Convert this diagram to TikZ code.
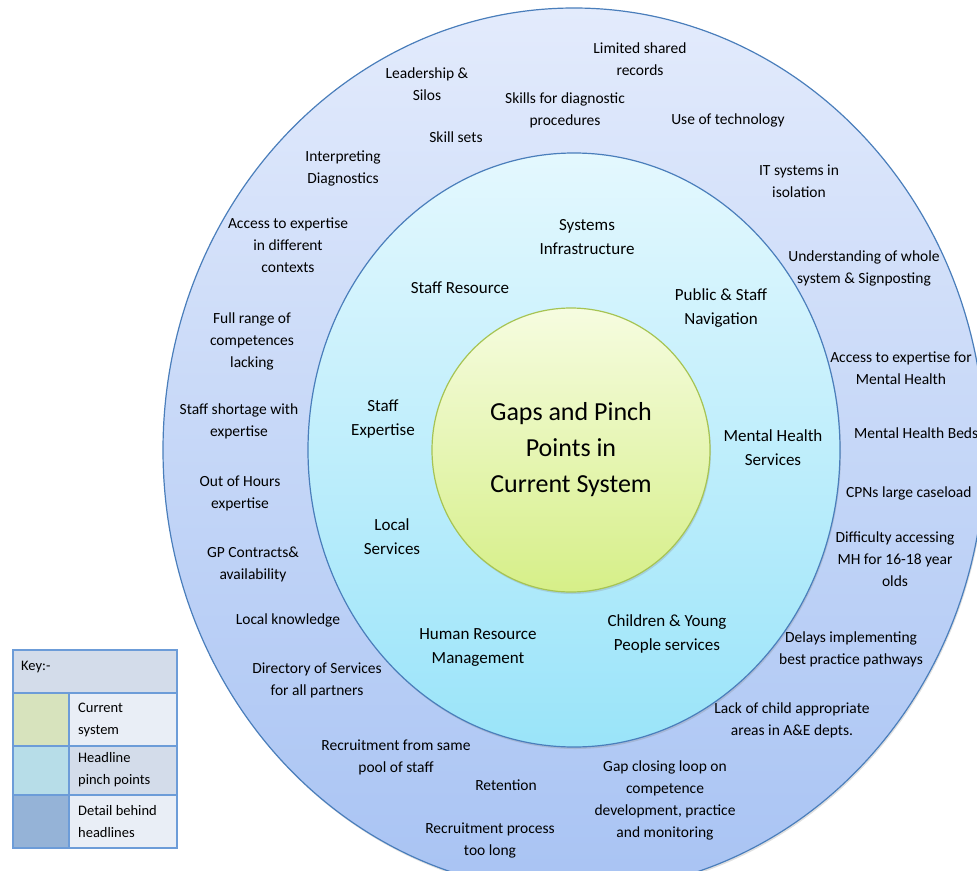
\documentclass[tikz,border=0pt]{standalone}
\usepackage{fontspec}
\setmainfont{Carlito}
\usetikzlibrary{shadows,positioning}

\definecolor{ringborder}{HTML}{4A7EBB}
\definecolor{coreborder}{HTML}{A6C453}
\definecolor{outertop}{HTML}{E3EBFC}
\definecolor{outerbot}{HTML}{A8C3F3}
\definecolor{midtop}{HTML}{E4F8FE}
\definecolor{midbot}{HTML}{9AE4F9}
\definecolor{coretop}{HTML}{F6FCE0}
\definecolor{corebot}{HTML}{D6EF88}
\definecolor{keyborder}{HTML}{6C9CD8}
\definecolor{keyhead}{HTML}{D3DCEA}
\definecolor{keylight}{HTML}{E9EEF6}
\definecolor{keygreen}{HTML}{D7E3BD}
\definecolor{keycyan}{HTML}{B7DDE8}
\definecolor{keyblue}{HTML}{95B3D7}

\begin{document}
\begin{tikzpicture}[
  x=1pt, y=-1pt,
  every node/.style = {align=center, inner sep=1pt},
  detail/.style = {font=\fontsize{15.5}{22}\selectfont},
  headline/.style = {font=\fontsize{17}{24}\selectfont},
  core/.style = {font=\fontsize{26}{36}\selectfont},
  keytxt/.style = {font=\fontsize{14.5}{22}\selectfont, align=left, anchor=west},
  ring/.style = {draw=ringborder, line width=1.2pt,
    drop shadow={opacity=0.25, shadow xshift=1pt, shadow yshift=-2pt}},
  keycell/.style = {draw=keyborder, line width=1.6pt}
]
\useasboundingbox (0,0) rectangle (977,870);

\shade[ring, top color=outertop, bottom color=outerbot]
  (574,450) ellipse [x radius=411pt, y radius=442pt];
\shade[ring, top color=midtop, bottom color=midbot]
  (574,450) ellipse [x radius=266pt, y radius=297pt];
\shade[ring, draw=coreborder, top color=coretop, bottom color=corebot]
  (571,450) ellipse [x radius=139pt, y radius=142pt];

\node[core] (gaps) at (571,450) {Gaps and Pinch\\Points in\\Current System};

\node[headline] (sysinfra)  at (587,237) {Systems\\Infrastructure};
\node[headline] (staffres)  at (460,288) {Staff Resource};
\node[headline] (navig)     at (721,308) {Public \& Staff\\Navigation};
\node[headline] (staffexp)  at (383,419) {Staff\\Expertise};
\node[headline] (localserv) at (392,537) {Local\\Services};
\node[headline] (mhserv)    at (773,448) {Mental Health\\Services};
\node[headline] (hrm)       at (478,647) {Human Resource\\Management};
\node[headline] (cyp)       at (667,634) {Children \& Young\\People services};

\node[detail] (silos)     at (427,84)  {Leadership \&\\Silos};
\node[detail] (sharedrec) at (640,59)  {Limited shared\\records};
\node[detail] (diagskill) at (565,110) {Skills for diagnostic\\procedures};
\node[detail] (skillsets) at (456,137) {Skill sets};
\node[detail] (usetech)   at (728,120) {Use of technology};
\node[detail] (interp)    at (343,168) {Interpreting\\Diagnostics};
\node[detail] (itiso)     at (799,181) {IT systems in\\isolation};
\node[detail] (contexts)  at (288,245) {Access to expertise\\in different\\contexts};
\node[detail] (signpost)  at (864,268) {Understanding of whole\\system \& Signposting};
\node[detail] (fullrange) at (252,341) {Full range of\\competences\\lacking};
\node[detail] (mhaccess)  at (901,368) {Access to expertise for\\Mental Health};
\node[detail] (shortage)  at (239,421) {Staff shortage with\\expertise};
\node[detail, anchor=west] (mhbeds) at (853,433) {Mental Health Beds};
\node[detail] (ooh)       at (240,493) {Out of Hours\\expertise};
\node[detail, anchor=west] (cpns)   at (845,493) {CPNs large caseload};
\node[detail] (mh1618)    at (895,559) {Difficulty accessing\\MH for 16-18 year\\olds};
\node[detail] (gpcon)     at (253,564) {GP Contracts\&\\availability};
\node[detail] (localknow) at (288,620) {Local knowledge};
\node[detail] (pathways)  at (851,649) {Delays implementing\\best practice pathways};
\node[detail] (directory) at (317,680) {Directory of Services\\for all partners};
\node[detail] (childarea) at (792,720) {Lack of child appropriate\\areas in A\&E depts.};
\node[detail] (samepool)  at (396,757) {Recruitment from same\\pool of staff};
\node[detail] (retention) at (506,785) {Retention};
\node[detail] (gaploop)   at (665,800) {Gap closing loop on\\competence\\development, practice\\and monitoring};
\node[detail] (recproc)   at (490,840) {Recruitment process\\too long};

\filldraw[keycell, fill=keyhead]  (13,650) rectangle (177,693);
\filldraw[keycell, fill=keygreen] (13,693) rectangle (69,746);
\filldraw[keycell, fill=keylight] (69,693) rectangle (177,746);
\filldraw[keycell, fill=keycyan]  (13,746) rectangle (69,795);
\filldraw[keycell, fill=keyhead]  (69,746) rectangle (177,795);
\filldraw[keycell, fill=keyblue]  (13,795) rectangle (69,848);
\filldraw[keycell, fill=keylight] (69,795) rectangle (177,848);

\node[keytxt] (keyhd)  at (20,667) {Key:-};
\node[keytxt] (keycur) at (77,720) {Current\\system};
\node[keytxt] (keyhl)  at (77,770) {Headline\\pinch points};
\node[keytxt] (keydet) at (77,822) {Detail behind\\headlines};
\end{tikzpicture}
\end{document}
